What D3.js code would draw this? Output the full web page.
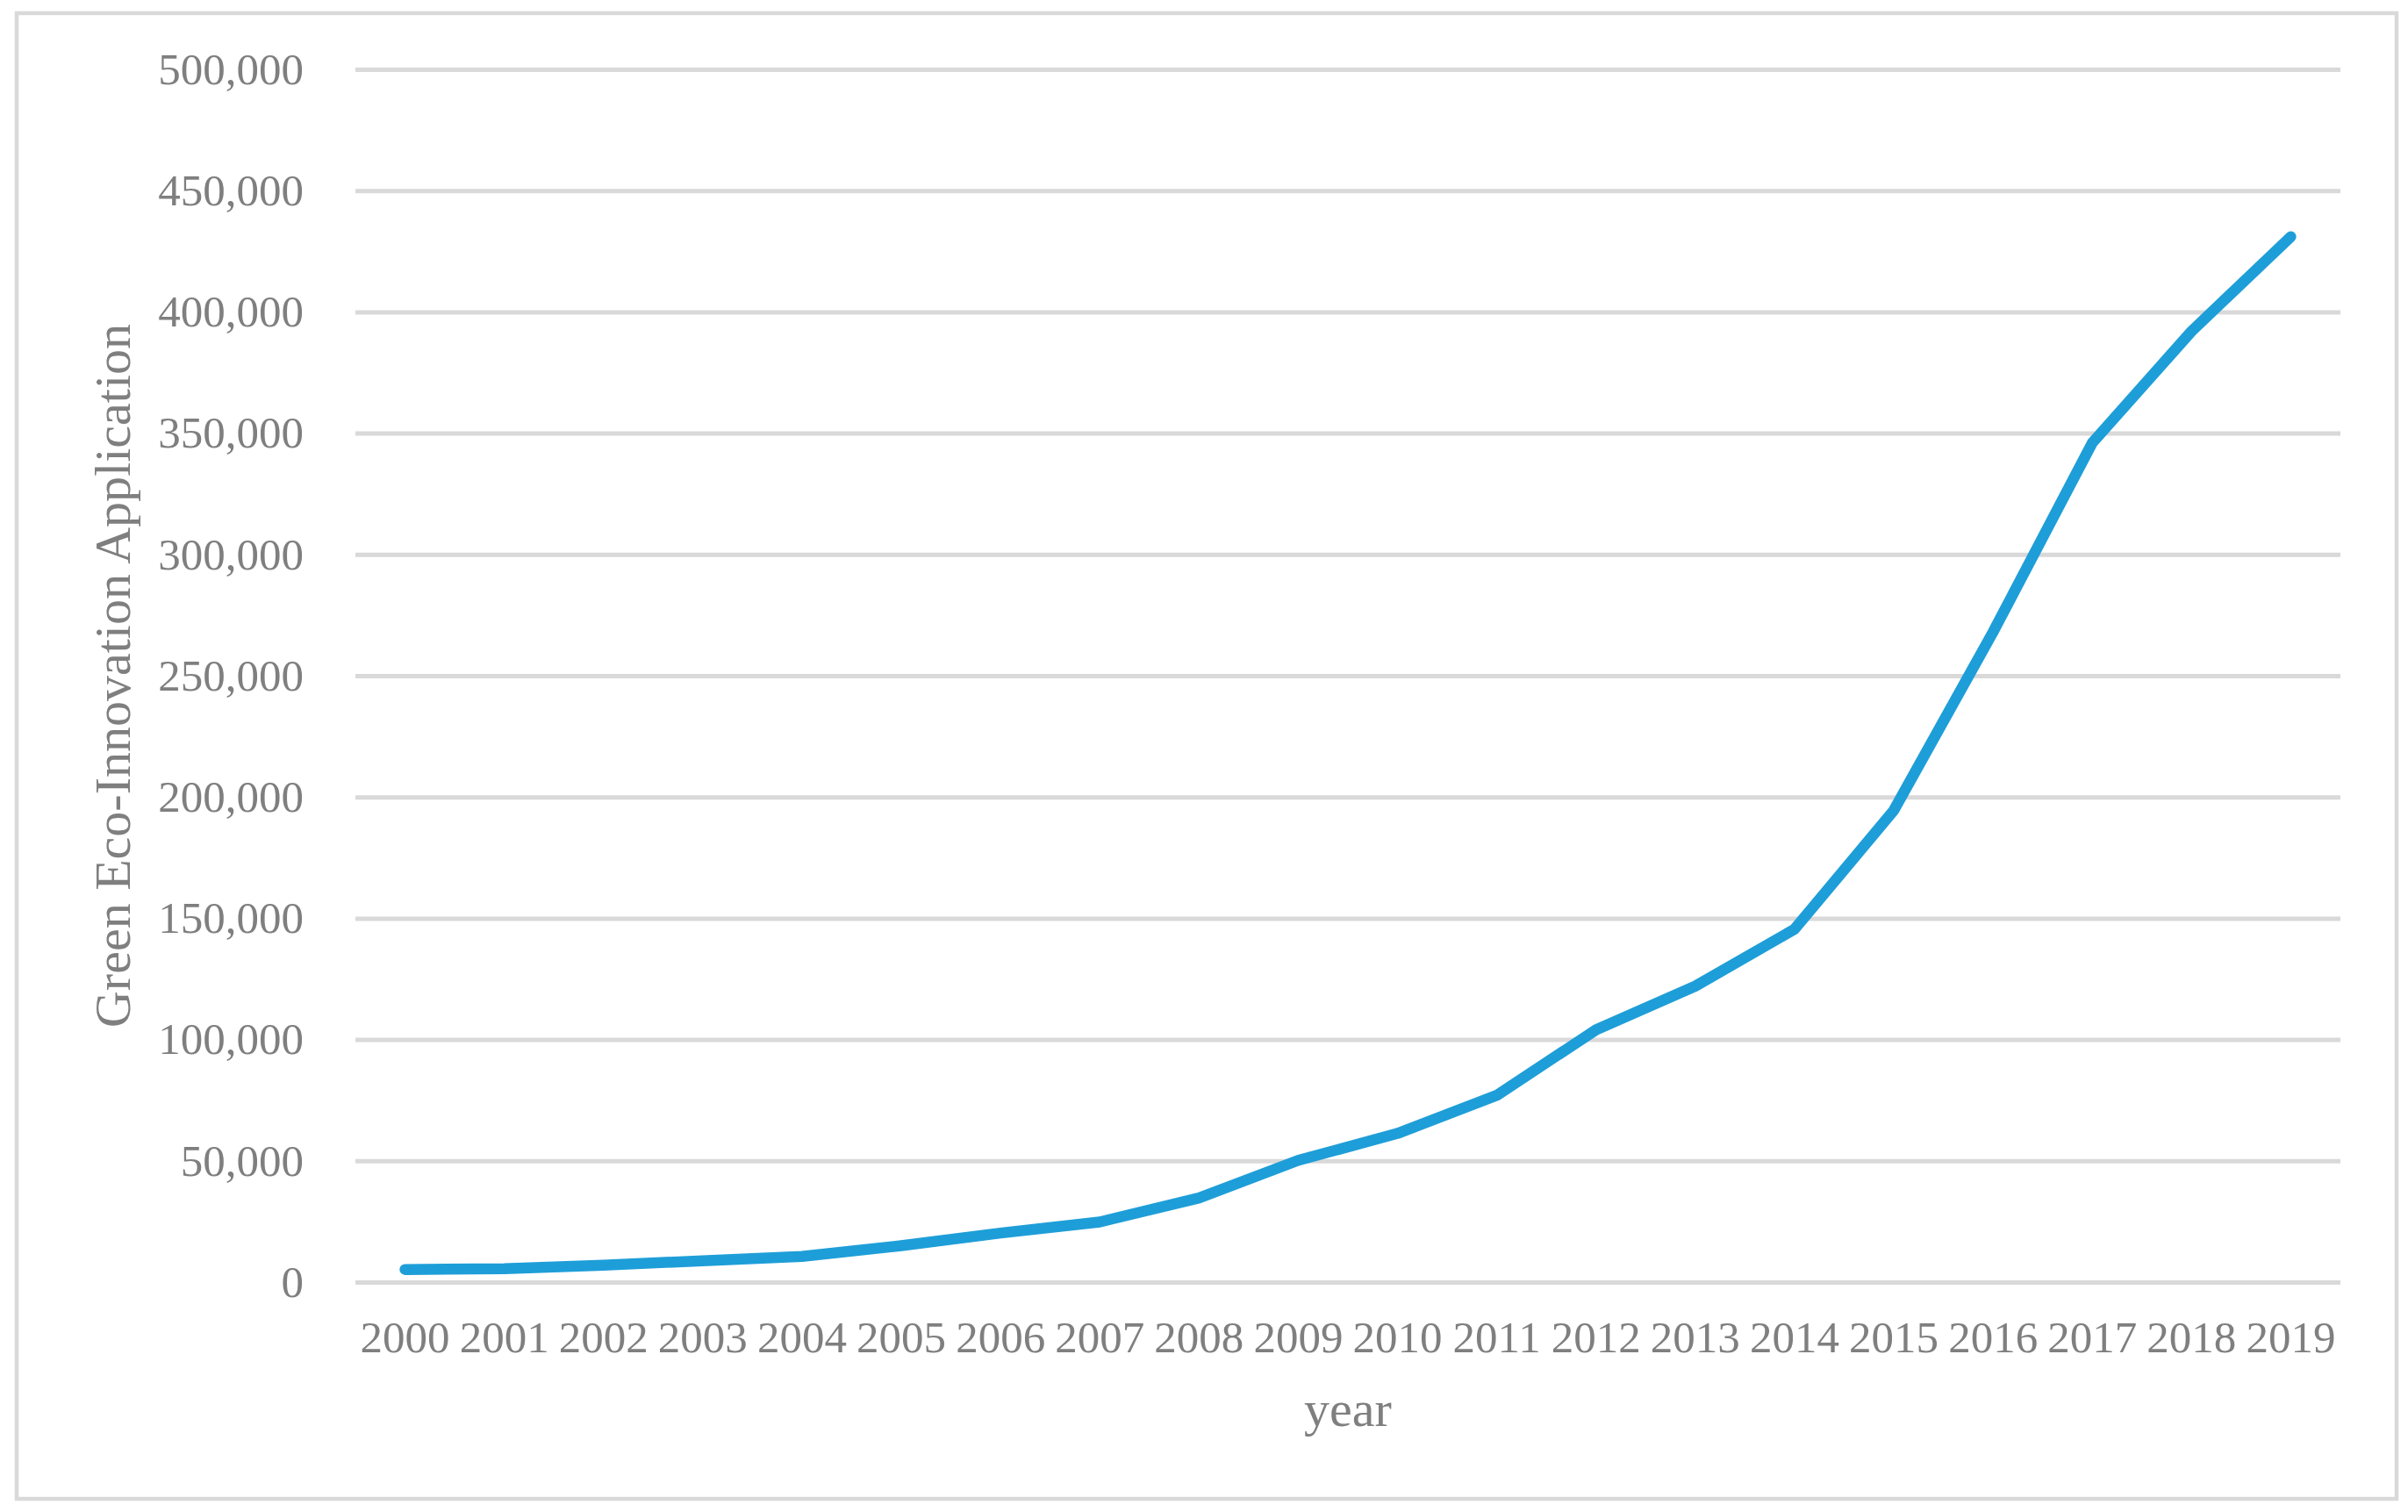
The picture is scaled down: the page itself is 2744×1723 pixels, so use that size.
<!DOCTYPE html>
<html>
<head>
<meta charset="utf-8">
<script src="https://cdn.jsdelivr.net/npm/d3@7"></script>
<style>
  html, body { margin: 0; padding: 0; background: #ffffff; }
  svg { display: block; }
</style>
</head>
<body>
<svg id="chart" width="2744" height="1723"></svg>
<script>
const years = ["2000","2001","2002","2003","2004","2005","2006","2007","2008","2009",
               "2010","2011","2012","2013","2014","2015","2016","2017","2018","2019"];
const applications = [5200, 5500, 7000, 8800, 10600, 15000, 20200, 24800, 34700, 50200,
                      61300, 77000, 104000, 122000, 145500, 194500, 268000, 346000, 392000, 431000];
const yTicks = [0, 50000, 100000, 150000, 200000, 250000, 300000, 350000, 400000, 450000, 500000];
const xTitle = "year";
const yTitle = "Green Eco-Innovation Application";

const W = 2744, H = 1723;
const plot = { left: 405, right: 2667, top: 79, bottom: 1461 };
const FONT = "'Liberation Serif', 'Times New Roman', serif";
const TEXT = "#7f7f7f";
const GRID = "#d9d9d9";

const svg = d3.select("#chart");

svg.append("rect")
  .attr("x", 19).attr("y", 15)
  .attr("width", 2731 - 19).attr("height", 1708 - 15)
  .attr("fill", "#ffffff")
  .attr("stroke", GRID).attr("stroke-width", 4.5);

const x = d3.scaleBand().domain(years).range([plot.left, plot.right]).paddingInner(0).paddingOuter(0);
const y = d3.scaleLinear().domain([0, 500000]).range([plot.bottom, plot.top]);

// gridlines
const grid = svg.append("g")
  .attr("transform", `translate(${plot.left},0)`)
  .call(d3.axisLeft(y).tickValues(yTicks).tickSize(-(plot.right - plot.left)).tickFormat(""));
grid.select(".domain").remove();
grid.selectAll("line").attr("stroke", GRID).attr("stroke-width", 5);

// y axis labels
const yAxis = svg.append("g")
  .attr("transform", `translate(${plot.left},0)`)
  .call(d3.axisLeft(y).tickValues(yTicks).tickSize(0).tickPadding(59).tickFormat(d3.format(",")));
yAxis.select(".domain").remove();
yAxis.selectAll("text")
  .attr("fill", TEXT).style("font-family", FONT).style("font-size", "51px");

// x axis labels
const xAxis = svg.append("g")
  .attr("transform", `translate(0,${plot.bottom})`)
  .call(d3.axisBottom(x).tickSize(0).tickPadding(44));
xAxis.select(".domain").remove();
xAxis.selectAll("text")
  .attr("fill", TEXT).style("font-family", FONT).style("font-size", "51px");

// line
const line = d3.line()
  .x((d, i) => x(years[i]) + x.bandwidth() / 2)
  .y(d => y(d));

svg.append("path")
  .datum(applications)
  .attr("d", line)
  .attr("fill", "none")
  .attr("stroke", "#1e9ed8")
  .attr("stroke-width", 12.5)
  .attr("stroke-linecap", "round")
  .attr("stroke-linejoin", "round");

// axis titles
svg.append("text")
  .attr("x", (plot.left + plot.right) / 2)
  .attr("y", 1625)
  .attr("text-anchor", "middle")
  .attr("fill", TEXT)
  .style("font-family", FONT).style("font-size", "58px")
  .text(xTitle);

svg.append("text")
  .attr("transform", `translate(148,${(plot.top + plot.bottom) / 2}) rotate(-90)`)
  .attr("text-anchor", "middle")
  .attr("fill", TEXT)
  .style("font-family", FONT).style("font-size", "58px")
  .text(yTitle);
</script>
</body>
</html>
